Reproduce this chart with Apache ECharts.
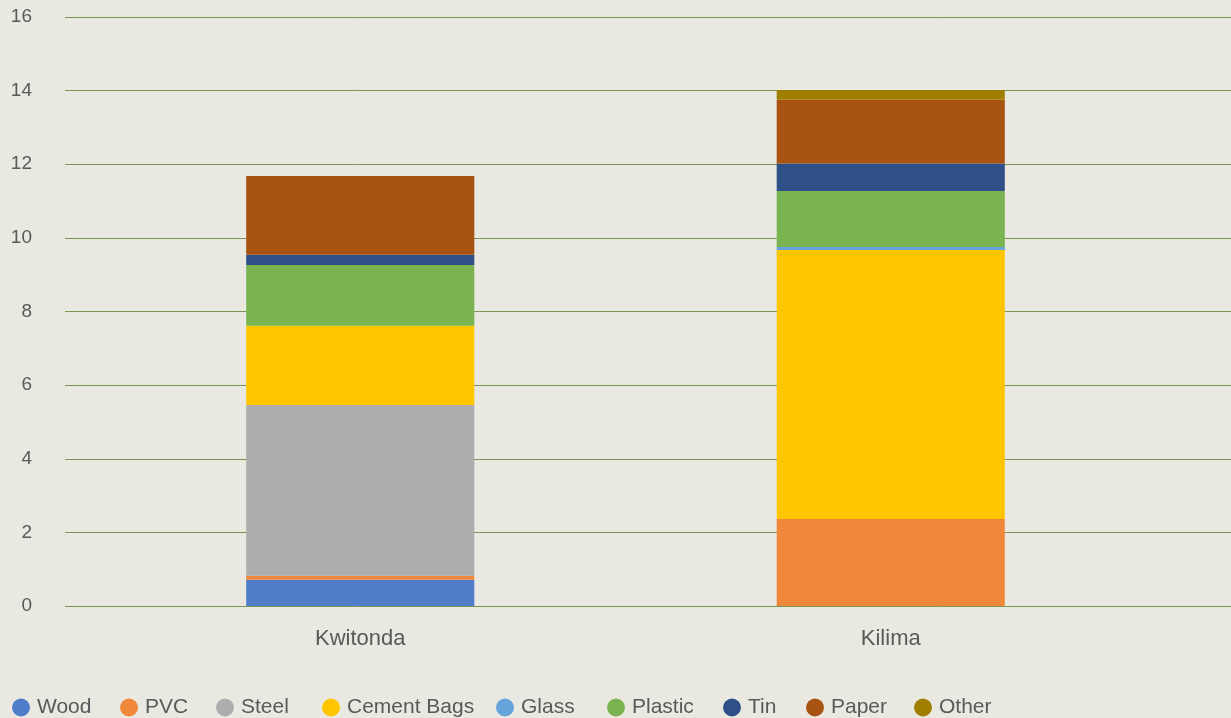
<!DOCTYPE html>
<html><head><meta charset="utf-8">
<script src="https://cdn.jsdelivr.net/npm/echarts@6/dist/echarts.min.js"></script>
<style>html,body{margin:0;padding:0;background:#EAE9E1;}#c{width:1231px;height:718px;}</style>
</head><body><div id="c"></div>
<script>
const categories = ['Kwitonda', 'Kilima'];
const seriesNames = ['Wood', 'PVC', 'Steel', 'Cement Bags', 'Glass', 'Plastic', 'Tin', 'Paper', 'Other'];
const wood = [0.71, 0];
const pvc = [0.11, 2.36];
const steel = [4.64, 0];
const cementBags = [2.15, 7.31];
const glass = [0, 0.08];
const plastic = [1.65, 1.52];
const tin = [0.28, 0.75];
const paper = [2.14, 1.73];
const other = [0, 0.27];
const yTicks = [0, 2, 4, 6, 8, 10, 12, 14, 16];
const colors = ['#4F7DC9', '#F0883B', '#ADADAD', '#FFC600', '#65A3DC', '#7AB451', '#2E5087', '#A85312', '#A07F00'];
const values = [wood, pvc, steel, cementBags, glass, plastic, tin, paper, other];
const legendLefts = [12, 120, 216, 322, 496, 607, 723, 806, 914];

const font = 'Liberation Sans, Arial, sans-serif';
const chart = echarts.init(document.getElementById('c'));
chart.setOption({
  backgroundColor: '#EAE9E1',
  animation: false,
  color: colors,
  grid: [
    {left: 65, right: 0, top: 17, bottom: 112, containLabel: false},
    {left: 95, right: 75, top: 17, bottom: 112, containLabel: false}
  ],
  xAxis: [
    {gridIndex: 0, type: 'value', min: 0, max: 1, show: false},
    {gridIndex: 1, type: 'category', data: categories,
     axisLine: {show: false}, axisTick: {show: false},
     axisLabel: {color: '#595959', fontSize: 22, fontFamily: font, margin: 22}}
  ],
  yAxis: [
    {gridIndex: 0, type: 'value', min: yTicks[0], max: yTicks[yTicks.length-1], interval: 2,
     axisLine: {show: false}, axisTick: {show: false},
     axisLabel: {color: '#595959', fontSize: 19, fontFamily: font, margin: 33, padding: [4, 0, 0, 0]},
     splitLine: {lineStyle: {color: '#7A9650', width: 1}}},
    {gridIndex: 1, type: 'value', min: yTicks[0], max: yTicks[yTicks.length-1], interval: 2, show: false, splitLine: {show: false}}
  ],
  legend: seriesNames.map((n, i) => ({
    left: legendLefts[i], top: 697, padding: 0, icon: 'circle', itemWidth: 18, itemHeight: 18,
    textStyle: {color: '#595959', fontSize: 21, fontFamily: font, padding: [0, 0, 0, 2]},
    data: [n]
  })),
  series: seriesNames.map((n, i) => ({
    name: n, type: 'bar', stack: 'total', xAxisIndex: 1, yAxisIndex: 1,
    barWidth: '43%', data: values[i], itemStyle: {color: colors[i]}
  }))
});
</script></body></html>
